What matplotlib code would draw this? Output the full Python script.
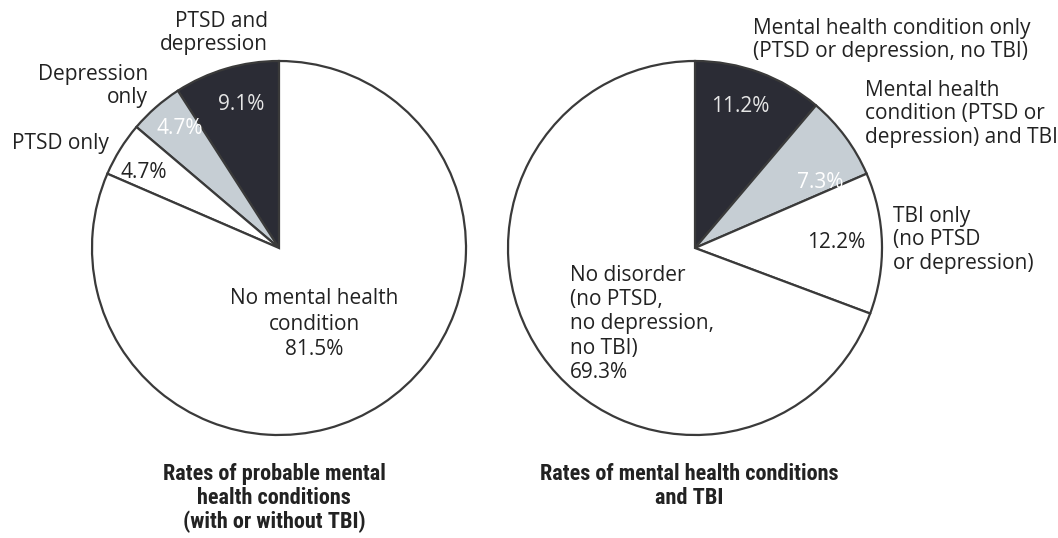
import matplotlib
matplotlib.use("Agg")
import matplotlib.pyplot as plt

# -------------------------------------------------
# Data
# -------------------------------------------------
left_labels = ["PTSD and depression", "Depression only", "PTSD only", "No mental health condition"]
left_values = [9.1, 4.7, 4.7, 81.5]

right_labels = ["Mental health condition only", "Mental health condition and TBI",
                "TBI only", "No disorder"]
right_values = [11.2, 7.3, 12.2, 69.3]

slice_colors = ["#2b2c35", "#c6ced4", "#ffffff", "#ffffff"]

W, H = 1058, 538
plt.rcParams["font.family"] = ["Open Sans", "DejaVu Sans"]

fig = plt.figure(figsize=(W / 100, H / 100), dpi=100)
ax = fig.add_axes([0, 0, 1, 1])

wedge_style = {"edgecolor": "#3a3a3a", "linewidth": 1.6}

# left pie goes counter-clockwise from 12 o'clock, right pie clockwise
ax.pie(left_values, colors=slice_colors, startangle=90, counterclock=True,
       center=(279, H - 248), radius=187, wedgeprops=wedge_style)
ax.pie(right_values, colors=slice_colors, startangle=90, counterclock=False,
       center=(695, H - 248), radius=187, wedgeprops=wedge_style)

ax.set_xlim(0, W)
ax.set_ylim(0, H)
ax.set_aspect("equal")
ax.axis("off")


def put(x, y, s, ha="center", color="#222222", ls=1.18, **kw):
    # y is given from the top of the image
    ax.text(x, H - y, s, ha=ha, va="center", color=color, fontsize=15,
            linespacing=ls, **kw)


# left pie labels
put(268, 33, "PTSD and\ndepression", ha="right")
put(148, 86, "Depression\nonly", ha="right")
put(12, 143, "PTSD only", ha="left")
put(241, 105, f"{left_values[0]}%", color="#e6e6e6")
put(180, 128, f"{left_values[1]}%", color="#ffffff")
put(144, 173, f"{left_values[2]}%")
put(314, 324, f"No mental health\ncondition\n{left_values[3]}%", ls=1.3)

# right pie labels
put(753, 40, "Mental health condition only\n(PTSD or depression, no TBI)", ha="left")
put(865, 114, "Mental health\ncondition (PTSD or\ndepression) and TBI", ha="left")
put(893, 240, "TBI only\n(no PTSD\nor depression)", ha="left")
put(740, 106, f"{right_values[0]}%", color="#e6e6e6")
put(820, 182, f"{right_values[1]}%", color="#ffffff")
put(836, 242, f"{right_values[2]}%")
put(570, 324, f"No disorder\n(no PTSD,\nno depression,\nno TBI)\n{right_values[3]}%",
    ha="left", ls=1.2)

# titles under each pie
title_font = ["Roboto Condensed", "Roboto", "DejaVu Sans"]
ax.text(274, H - 498, "Rates of probable mental\nhealth conditions\n(with or without TBI)",
        ha="center", va="center", fontsize=16, fontweight="bold", family=title_font,
        color="#222222", linespacing=1.12)
ax.text(689, H - 486, "Rates of mental health conditions\nand TBI",
        ha="center", va="center", fontsize=16, fontweight="bold", family=title_font,
        color="#222222", linespacing=1.12)

fig.savefig("out.png", dpi=100)
